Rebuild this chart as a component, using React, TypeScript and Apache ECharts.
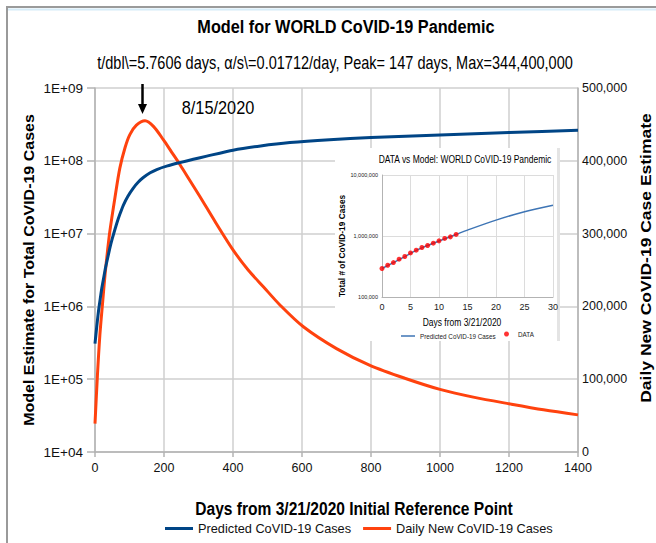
import React, { useEffect, useRef } from "react";
import * as echarts from "echarts";

// ---------- data ----------
const xTicks = [0, 200, 400, 600, 800, 1000, 1200, 1400];
const totalDays = [0, 5, 10, 15, 20, 25, 30, 36, 43, 50, 56, 63, 72, 82, 95, 111, 125, 140, 160, 179, 210, 246, 285, 324, 400, 480, 565, 680, 800, 1000, 1200, 1400];
const totalCases = [3.09e5, 5.25e5, 8.51e5, 1.26e6, 1.82e6, 2.45e6, 3.31e6, 4.47e6, 6.31e6, 8.51e6, 1.07e7, 1.38e7, 1.84e7, 2.45e7, 3.24e7, 4.22e7, 5.07e7, 5.89e7, 6.84e7, 7.59e7, 8.51e7, 9.44e7, 1.05e8, 1.16e8, 1.4e8, 1.6e8, 1.78e8, 1.95e8, 2.09e8, 2.27e8, 2.45e8, 2.63e8];
const dailyDays = [0, 7, 14, 22, 29, 36, 43, 58, 72, 87, 101, 120, 145, 170, 198, 222, 246, 275, 304, 350, 401, 444, 488, 536, 604, 700, 797, 900, 1000, 1100, 1203, 1300, 1400];
const dailyCases = [39000, 105000, 160000, 205000, 243000, 275000, 303000, 350000, 390000, 418000, 436000, 449000, 455000, 447000, 429000, 412000, 395000, 373000, 351000, 315000, 277000, 250000, 227000, 202000, 172000, 142000, 119000, 101000, 86000, 75000, 66000, 58000, 51000];

const insetDataDays = [0, 1, 2, 3, 4, 5, 6, 7, 8, 9, 10, 11, 12, 13];
const insetDataCases = [293000, 332000, 367000, 417000, 461000, 528000, 585000, 648000, 699000, 763000, 832000, 912000, 968000, 1060000];
const insetModelDays = [0, 2, 4, 6, 8, 10, 13, 15, 20, 25, 30];
const insetModelCases = [293000, 367000, 460000, 580000, 700000, 830000, 1060000, 1250000, 1820000, 2500000, 3200000];

const seriesNames = ["Predicted CoVID-19 Cases", "Daily New CoVID-19 Cases"];
const insetNames = ["Predicted CoVID-19 Cases", "DATA"];

const FN = "'Liberation Sans', Arial, sans-serif";

const zip = (xs: number[], ys: number[]) => xs.map((x, i) => [x, ys[i]]);
const commas = (v: number) => Math.round(v).toLocaleString("en-US");
const sci = (v: number) => "1E+" + String(Math.round(Math.log10(v))).padStart(2, "0");

const AXIS = "#b3b3b3";
const GRIDC = "#cfcfcf";

export default function App() {
  const ref = useRef<HTMLDivElement>(null);
  useEffect(() => {
    if (!ref.current) return;
    const chart = echarts.init(ref.current, undefined, { renderer: "svg" });
    const txt = (x: number, y: number, text: string, size: number, opts: any = {}) => ({
      type: "text",
      x,
      y,
      rotation: opts.rotation || 0,
      scaleX: opts.sx || 1,
      scaleY: opts.sy || 1,
      z: 40,
      style: {
        text,
        fontSize: size,
        fontWeight: opts.bold ? "bold" : "normal",
        fontFamily: FN,
        fill: opts.fill || "#000",
        textAlign: "center",
        textVerticalAlign: "middle",
        align: "center",
        verticalAlign: "middle",
      },
    });
    const option: any = {
      animation: false,
      backgroundColor: "#ffffff",
      grid: [
        { left: 95, right: 78, top: 88, bottom: 91 },
        { left: 382, top: 175, width: 171, height: 122, z: 20 },
      ],
      xAxis: [
        {
          type: "value",
          gridIndex: 0,
          min: 0,
          max: 1400,
          interval: 200,
          axisLine: { show: true, lineStyle: { color: AXIS, width: 1.5 } },
          axisTick: { show: true, length: 5, lineStyle: { color: AXIS, width: 1.5 } },
          axisLabel: { fontSize: 12.5, color: "#111", fontFamily: FN, margin: 9, formatter: (v: number) => (xTicks.includes(v) ? String(v) : "") },
          splitLine: { show: true, lineStyle: { color: GRIDC, width: 1.5 } },
        },
        {
          type: "value",
          gridIndex: 1,
          min: 0,
          max: 30,
          interval: 5,
          z: 20,
          axisLine: { show: true, lineStyle: { color: AXIS, width: 1 } },
          axisTick: { show: false },
          axisLabel: { fontSize: 9, color: "#222", fontFamily: FN, margin: 5 },
          splitLine: { show: true, lineStyle: { color: "#dcdcdc", width: 1 } },
        },
      ],
      yAxis: [
        {
          type: "log",
          logBase: 10,
          gridIndex: 0,
          min: 1e4,
          max: 1e9,
          position: "left",
          axisLine: { show: true, lineStyle: { color: AXIS, width: 1.5 } },
          axisTick: { show: true, length: 8, lineStyle: { color: AXIS, width: 1.5 } },
          axisLabel: { fontSize: 13.5, color: "#111", fontFamily: FN, margin: 12, formatter: sci },
          splitLine: { show: true, lineStyle: { color: GRIDC, width: 1.5 } },
          minorTick: { show: false },
        },
        {
          type: "value",
          gridIndex: 0,
          min: 0,
          max: 500000,
          interval: 100000,
          position: "right",
          axisLine: { show: true, lineStyle: { color: AXIS, width: 1.5 } },
          axisTick: { show: false },
          axisLabel: { fontSize: 12.5, color: "#111", fontFamily: FN, margin: 4, formatter: commas },
          splitLine: { show: false },
        },
        {
          type: "log",
          logBase: 10,
          gridIndex: 1,
          min: 1e5,
          max: 1e7,
          z: 20,
          axisLine: { show: true, lineStyle: { color: AXIS, width: 1 } },
          axisTick: { show: false },
          axisLabel: { fontSize: 5.5, color: "#222", fontFamily: FN, margin: 4, formatter: commas },
          splitLine: { show: true, lineStyle: { color: "#dcdcdc", width: 1 } },
        },
      ],
      legend: [
        {
          data: seriesNames,
          icon: "rect",
          left: 165,
          top: 522,
          itemWidth: 28,
          itemHeight: 3,
          itemGap: 12,
          textStyle: { fontSize: 12.75, color: "#111", fontFamily: FN },
          padding: 0,
        },
        {
          data: ["insetModel"],
          formatter: () => insetNames[0],
          icon: "rect",
          left: 401,
          top: 333,
          itemWidth: 14,
          itemHeight: 1.5,
          z: 30,
          padding: 0,
          textStyle: { fontSize: 6.3, color: "#222", fontFamily: FN },
        },
        {
          data: ["DATA"],
          formatter: () => insetNames[1],
          icon: "circle",
          left: 504,
          top: 331,
          itemWidth: 5,
          itemHeight: 5,
          z: 30,
          padding: 0,
          textStyle: { fontSize: 6.3, color: "#222", fontFamily: FN, padding: [0, 0, 0, 4] },
        },
      ],
      series: [
        {
          name: seriesNames[0],
          type: "line",
          xAxisIndex: 0,
          yAxisIndex: 0,
          data: zip(totalDays, totalCases),
          symbol: "none",
          smooth: 0.2,
          color: "#004586",
          lineStyle: { width: 3, color: "#004586" },
          z: 3,
        },
        {
          name: seriesNames[1],
          type: "line",
          xAxisIndex: 0,
          yAxisIndex: 1,
          data: zip(dailyDays, dailyCases),
          symbol: "none",
          smooth: 0.3,
          color: "#ff420e",
          lineStyle: { width: 3, color: "#ff420e" },
          z: 2,
        },
        {
          name: "insetModel",
          type: "line",
          xAxisIndex: 1,
          yAxisIndex: 2,
          data: zip(insetModelDays, insetModelCases),
          symbol: "none",
          smooth: 0.3,
          color: "#3e75b5",
          lineStyle: { width: 1.5, color: "#3e75b5" },
          z: 21,
        },
        {
          name: "DATA",
          type: "scatter",
          xAxisIndex: 1,
          yAxisIndex: 2,
          data: zip(insetDataDays, insetDataCases),
          symbol: "circle",
          symbolSize: 5,
          color: "#ff0000",
          itemStyle: { color: "#ff0000" },
          z: 22,
        },
      ],
      graphic: {
        elements: [
          { type: "rect", z: 10, shape: { x: 335, y: 148, width: 225, height: 193 }, style: { fill: "#ffffff" } },
          { type: "rect", z: 11, shape: { x: 557, y: 148, width: 3, height: 193 }, style: { fill: "#e4e4e4" } },
          { type: "line", z: 40, shape: { x1: 7, y1: 7, x2: 656, y2: 7 }, style: { stroke: "#9a9a9a", lineWidth: 2 } },
          { type: "line", z: 40, shape: { x1: 8, y1: 9.5, x2: 656, y2: 9.5 }, style: { stroke: "#d6ecf8", lineWidth: 2 } },
          { type: "line", z: 40, shape: { x1: 7, y1: 6, x2: 7, y2: 543 }, style: { stroke: "#9a9a9a", lineWidth: 2 } },
          txt(346, 27, "Model for WORLD CoVID-19 Pandemic", 18.5, { bold: true, sx: 0.88 }),
          txt(335, 62, "t/dbl\\=5.7606 days, \u03b1/s\\=0.01712/day, Peak= 147 days, Max=344,400,000", 17.5, { sx: 0.83 }),
          txt(354, 508, "Days from 3/21/2020 Initial Reference Point", 19, { bold: true, sx: 0.82 }),
          txt(29, 270, "Model Estimate for Total CoVID-19 Cases", 16, { bold: true, rotation: Math.PI / 2, sy: 0.9 }),
          txt(646, 258, "Daily New CoVID-19 Case Estimate", 17.5, { bold: true, rotation: Math.PI / 2, sy: 0.8 }),
          txt(218, 108, "8/15/2020", 19, { sx: 0.86 }),
          { type: "line", z: 40, shape: { x1: 142.5, y1: 84, x2: 142.5, y2: 106 }, style: { stroke: "#000", lineWidth: 2.5 } },
          { type: "polygon", z: 40, shape: { points: [[138, 104], [147, 104], [142.5, 114]] }, style: { fill: "#000" } },
          txt(465, 160, "DATA vs Model: WORLD CoVID-19 Pandemic", 10.2, { sx: 0.83 }),
          txt(462, 322.7, "Days from 3/21/2020", 10.1, { sx: 0.84 }),
          txt(341.7, 246, "Total # of CoVID-19 Cases", 8.3, { bold: true, rotation: Math.PI / 2 }),
        ],
      },
    };
    chart.setOption(option);
    return () => chart.dispose();
  }, []);
  return <div ref={ref} style={{ width: 656, height: 543, position: "absolute", left: 0, top: 0 }} />;
}
